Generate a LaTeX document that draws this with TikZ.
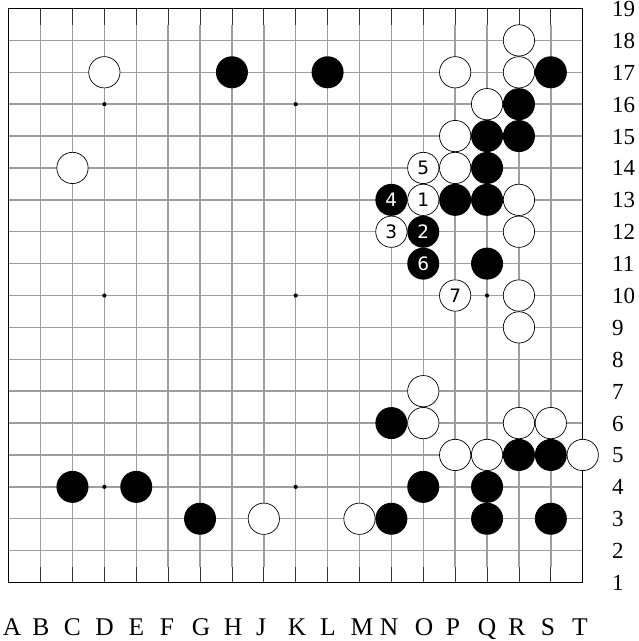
\documentclass[tikz,border=0pt]{standalone}
\usepackage{fontspec}
\setmainfont{Liberation Serif}
\newfontfamily\stonefont{DejaVu Sans}
\begin{document}
\begin{tikzpicture}[x=1pt,y=-1pt,
  gridline/.style={draw=black!38, line width=1.4pt},
  edgetick/.style={draw=black!80, line width=0.7pt},
  border/.style={draw=black, line width=1pt},
  hoshi/.style={circle, fill=black, minimum size=4.2pt, inner sep=0pt},
  wstone/.style={circle, draw=black, line width=0.7pt, fill=white, text=black, minimum size=31.3pt, inner sep=0pt, font=\stonefont\fontsize{18.5}{18.5}\selectfont},
  bstone/.style={circle, fill=black, text=white, minimum size=32pt, inner sep=0pt, font=\stonefont\fontsize{18.5}{18.5}\selectfont},
  collabel/.style={font=\fontsize{25.5}{25.5}\selectfont, inner sep=0pt, anchor=base},
  rowlabel/.style={font=\fontsize{23}{23}\selectfont, inner sep=0pt, anchor=base west}]
\useasboundingbox (0,0) rectangle (639,641);
\fill[white] (0,0) rectangle (639,641);
\def\sp{31.89}
\def\xo{8.7}
\def\yo{8.5}
% board points
\foreach \i in {0,...,18} {
  \foreach \r in {1,...,19} {
    \coordinate (p-\i-\r) at ({\xo+\i*\sp},{\yo+(19-\r)*\sp});
  }
}
% grid
\foreach \i in {1,...,17} {
  \draw[gridline] ([yshift=-16pt]p-\i-19) -- ([yshift=16pt]p-\i-1);
  \draw[edgetick] (p-\i-19) -- ([yshift=-16pt]p-\i-19);
  \draw[edgetick] (p-\i-1) -- ([yshift=16pt]p-\i-1);
}
\foreach \r in {2,...,18} {
  \draw[gridline] (p-0-\r) -- (p-18-\r);
}
\draw[border] (p-0-19) rectangle (p-18-1);
% star points
\foreach \i in {3,9,15} {
  \foreach \r in {4,10,16} {
    \node[hoshi] (h-\i-\r) at (p-\i-\r) {};
  }
}
% white stones
\foreach \i/\r in {16/18, 3/17, 14/17, 16/17, 15/16, 14/15, 2/14, 14/14, 16/13, 16/12,
  16/10, 16/9, 13/7, 13/6, 16/6, 17/6, 14/5, 15/5, 18/5, 8/3, 11/3} {
  \node[wstone] (w-\i-\r) at (p-\i-\r) {};
}
% black stones
\foreach \i/\r in {7/17, 10/17, 17/17, 16/16, 15/15, 16/15, 15/14, 14/13, 15/13, 15/11,
  12/6, 16/5, 17/5, 2/4, 4/4, 13/4, 15/4, 6/3, 12/3, 15/3, 17/3} {
  \node[bstone] (b-\i-\r) at (p-\i-\r) {};
}
% numbered stones
\node[wstone] (m1) at (p-13-13) {1};
\node[bstone] (m2) at (p-13-12) {2};
\node[wstone] (m3) at (p-12-12) {3};
\node[bstone] (m4) at (p-12-13) {4};
\node[wstone] (m5) at (p-13-14) {5};
\node[bstone] (m6) at (p-13-11) {6};
\node[wstone] (m7) at (p-14-10) {7};
% column labels
\foreach \x/\L in {12/A, 41/B, 72.5/C, 104.5/D, 136.5/E, 167/F, 201/G, 233/H, 261/J, 297/K,
  328/L, 362/M, 389/N, 424/O, 453/P, 487/Q, 517/R, 548/S, 580/T} {
  \node[collabel] (col-\L) at (\x,635) {\L};
}
% row labels
\foreach \r in {1,...,19} {
  \node[rowlabel] (row-\r) at (612,{\yo+(19-\r)*\sp+8}) {\r};
}
\end{tikzpicture}
\end{document}
